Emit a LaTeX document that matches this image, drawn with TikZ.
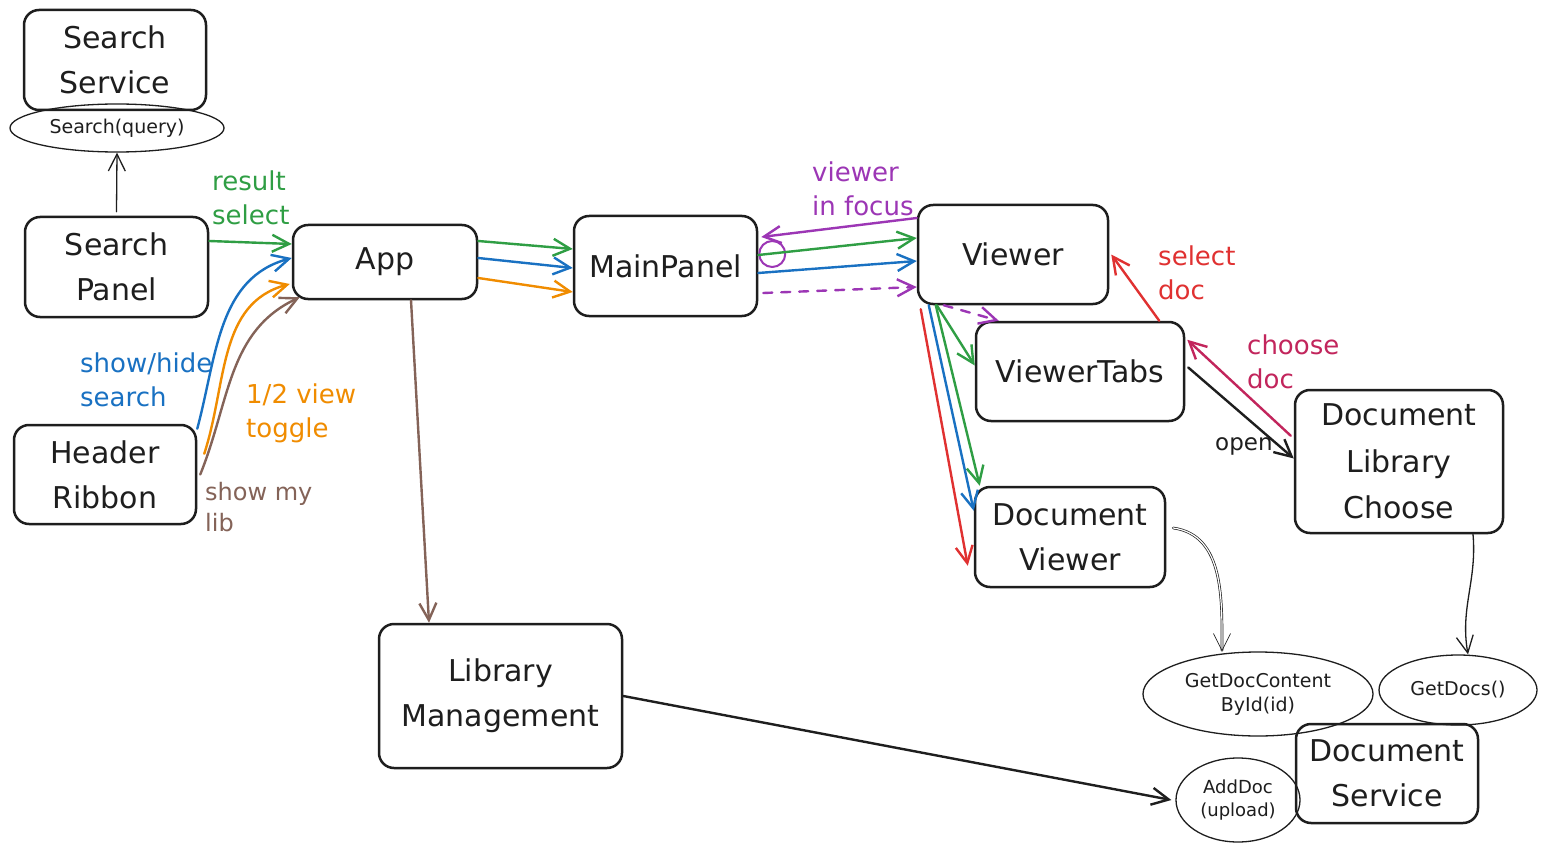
\documentclass[tikz,border=0pt]{standalone}
\usepackage{fontspec}
\setmainfont{DejaVu Sans}
\usepackage{tikz}
\usetikzlibrary{arrows.meta,positioning,shapes.geometric}
\definecolor{dgInk}{HTML}{1E1E1E}
\definecolor{dgGreen}{HTML}{2F9E44}
\definecolor{dgBlue}{HTML}{1971C2}
\definecolor{dgOrange}{HTML}{F08C00}
\definecolor{dgBrown}{HTML}{846358}
\definecolor{dgPurple}{HTML}{9C36B5}
\definecolor{dgRed}{HTML}{E03131}
\definecolor{dgPink}{HTML}{C2255C}
\newcommand{\dgboxfont}{\fontsize{30}{45}\selectfont}
\newcommand{\dglabelfont}{\fontsize{26}{34}\selectfont}
\newcommand{\dgcallfont}{\fontsize{19}{24}\selectfont}
\tikzset{
  dg diagram/.style={text=dgInk, line cap=round, line join=round},
  dg box/.style={draw=dgInk, line width=2.5pt, rounded corners=15pt,
    align=center, font=\dgboxfont, inner sep=0pt},
  dg call/.style={ellipse, draw=dgInk, line width=1.3pt, align=center,
    font=\dgcallfont, inner sep=0pt},
  dg arrow/.style={-{Straight Barb[length=17pt,width=17pt]}, line width=2.4pt},
  dg thin/.style={dg arrow, draw=dgInk, line width=1.3pt},
  dg dashed/.style={dg arrow, dash pattern=on 9pt off 9pt},
  dg label/.style={align=left, font=\dglabelfont, inner sep=0pt, anchor=west}
}
\begin{document}
\begin{tikzpicture}[dg diagram,x=1pt,y=-1pt]
\path[use as bounding box,fill=white] (0,0) rectangle (1547,853);
\node[dg box, minimum width=182, minimum height=100] (ss) at (115,60) {Search\\Service};
\node[dg call, minimum width=214, minimum height=48] (sq) at (117,128) {Search(query)};
\node[dg box, minimum width=183, minimum height=100] (sp) at (116.5,267) {Search\\Panel};
\node[dg box, minimum width=182, minimum height=99] (hr) at (105,474.5) {Header\\Ribbon};
\node[dg box, minimum width=184, minimum height=74] (app) at (385,262) {App};
\node[dg box, minimum width=183, minimum height=100] (mp) at (665.5,266) {MainPanel};
\node[dg box, minimum width=243, minimum height=144] (lm) at (500.5,696) {Library\\Management};
\node[dg box, minimum width=190, minimum height=99] (vw) at (1013,254.5) {Viewer};
\node[dg box, minimum width=208, minimum height=99] (vt) at (1080,371.5) {ViewerTabs};
\node[dg box, minimum width=190, minimum height=100] (dv) at (1070,537) {Document\\Viewer};
\node[dg box, minimum width=208, minimum height=143, font=\fontsize{30}{46.5}\selectfont] (dl) at (1399,461.5) {Document\\Library\\Choose};
\node[dg box, minimum width=182, minimum height=99] (ds) at (1387,773.5) {Document\\Service};
\node[dg call, minimum width=230, minimum height=84] (gc) at (1258,694) {GetDocContent\\ById(id)};
\node[dg call, minimum width=158, minimum height=70] (gd) at (1458,690) {GetDocs()};
\node[dg call, minimum width=124, minimum height=84, font=\fontsize{18}{23}\selectfont] (ad) at (1238,800) {AddDoc\\(upload)};

\node[dg label, text=dgGreen] (lresult) at (212,198) {result\\select};
\node[dg label, text=dgBlue] (lsearch) at (80,380) {show/hide\\search};
\node[dg label, text=dgOrange] (ltoggle) at (246,413) {1/2 view\\toggle};
\node[dg label, text=dgBrown, font=\fontsize{24}{31}\selectfont] (llib) at (205,507) {show my\\lib};
\node[dg label, text=dgPurple] (lfocus) at (812,189) {viewer\\in focus};
\node[dg label, text=dgRed] (lselect) at (1158,273) {select\\doc};
\node[dg label, text=dgPink] (lchoose) at (1247,362) {choose\\doc};
\node[dg label, font=\fontsize{23}{30}\selectfont] (lopen) at (1215,446) {open};

\draw[dg thin] ([yshift=4pt]sp.north) -- (sq.south);
\draw[dg arrow, draw=dgGreen] ([yshift=26pt]sp.east) -- ([yshift=18pt]app.west);
\draw[dg arrow, draw=dgBlue] ([yshift=-5pt]hr.north east) to[out=75,in=195] ([yshift=4pt]app.west);
\draw[dg arrow, draw=dgOrange] ([xshift=7pt,yshift=-30pt]hr.north east) to[out=72,in=195] ([xshift=-2pt,yshift=-22pt]app.west);
\draw[dg arrow, draw=dgBrown] ([xshift=3pt]hr.east) to[out=68,in=205] ([xshift=8pt,yshift=3pt]app.south west);
\foreach \col/\a/\b in {dgGreen/21/17,dgBlue/4/-2,dgOrange/-16/-26}
  \draw[dg arrow, draw=\col] ([yshift=\a pt]app.east) -- ([yshift=\b pt]mp.west);
\draw[dg arrow, draw=dgBrown] ([xshift=26pt]app.south) -- ([xshift=-71.5pt]lm.north);
\draw[dg arrow, draw=dgPurple] ([yshift=36.5pt]vw.west) -- ([xshift=3pt,yshift=29pt]mp.east);
\draw[dgPurple, line width=2pt] ([xshift=14pt,yshift=12pt]mp.east) circle (13);
\draw[dg arrow, draw=dgGreen] ([yshift=11pt]mp.east) -- ([yshift=16.5pt]vw.west);
\draw[dg arrow, draw=dgBlue] ([yshift=-7pt]mp.east) -- ([yshift=-6.5pt]vw.west);
\draw[dg dashed, draw=dgPurple] ([xshift=5pt,yshift=-27pt]mp.east) -- ([yshift=-32.5pt]vw.west);
\draw[dg arrow, draw=dgGreen] ([xshift=20pt]vw.south west) -- ([yshift=6pt]vt.west);
\draw[dg dashed, draw=dgPurple] ([xshift=27pt]vw.south west) -- ([xshift=24pt]vt.north west);
\draw[dg arrow, draw=dgGreen] ([xshift=19pt]vw.south west) -- ([xshift=6pt]dv.north west);
\draw[dg arrow, draw=dgBlue] ([xshift=12pt]vw.south west) -- ([yshift=-25pt]dv.north west);
\draw[dg arrow, draw=dgRed] ([xshift=4pt,yshift=-4pt]vw.south west) -- ([xshift=-6pt,yshift=-80pt]dv.north west);
\draw[dg arrow, draw=dgRed] ([xshift=-26pt]vt.north east) -- ([xshift=2pt]vw.east);
\draw[dg arrow, draw=dgPink] ([xshift=-3pt,yshift=-47pt]dl.north west) -- ([xshift=2pt,yshift=-19pt]vt.north east);
\draw[dg arrow, draw=dgInk] ([xshift=3pt,yshift=4pt]vt.east) -- ([yshift=3pt]dl.west);
\draw[dg thin, double, double distance=1.2pt, line width=0.7pt] ([xshift=7pt,yshift=9pt]dv.east) to[out=-8,in=90] ([xshift=-36pt]gc.north);
\draw[dg thin] ([xshift=74pt]dl.south) to[out=-85,in=100] ([xshift=10pt]gd.north);
\draw[dg arrow, draw=dgInk] (lm.east) -- ([xshift=-4pt]ad.west);
\end{tikzpicture}
\end{document}
